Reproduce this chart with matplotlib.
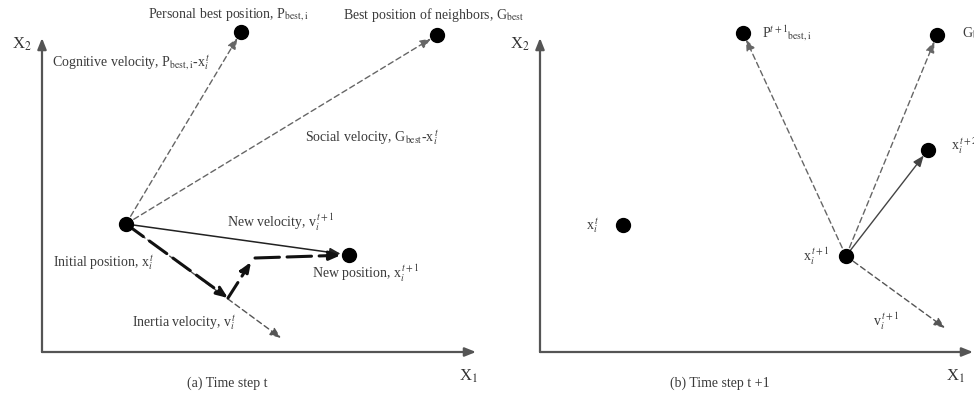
import matplotlib
matplotlib.use("Agg")
import matplotlib.pyplot as plt

plt.rcParams['font.family'] = ['Liberation Serif', 'DejaVu Serif']
plt.rcParams['mathtext.fontset'] = 'stix'

# positions, in pixels (x to the right, y downwards)
# panel (a): time step t
origin_a = (42, 352)
x_end_a, y_top_a = 476, 38
x_t = (126, 224)
p_best = (241, 32)
g_best = (437, 35)
x_new = (349, 255)
inertia_end = (281, 338)
inertia_part = (228, 298)
bend = (251, 262)
corner = (255, 258)

# panel (b): time step t+1
origin_b = (540, 352)
x_end_b, y_top_b = 973, 38
xb_t = (623, 225)
xb_new = (846, 256)
pb_new = (743, 33)
gb = (937, 35)
xb_next = (928, 150)
vb_end = (945, 328)

dots = [x_t, p_best, g_best, x_new, xb_t, xb_new, pb_new, gb, xb_next]

labels_a = [
    ("Personal best position, P$_{\\mathrm{best,i}}$", (148, 15)),
    ("Best position of neighbors, G$_{\\mathrm{best}}$", (343, 15)),
    ("Cognitive velocity, P$_{\\mathrm{best,i}}$-x$_i^{\\,t}$", (52, 63)),
    ("Social velocity, G$_{\\mathrm{best}}$-x$_i^{\\,t}$", (305, 138)),
    ("New velocity, v$_i^{\\,t+1}$", (227, 222)),
    ("Initial position, x$_i^{\\,t}$", (53, 263)),
    ("New position, x$_i^{\\,t+1}$", (312, 273)),
    ("Inertia velocity, v$_i^{\\,t}$", (132, 323)),
]
labels_b = [
    ("x$_i^{\\,t}$", (586, 226)),
    ("x$_i^{\\,t+1}$", (803, 256)),
    ("P$^{t+1}$$_{\\mathrm{best,i}}$", (762, 33)),
    ("G$_{\\mathrm{best}}$", (962, 33)),
    ("x$_i^{\\,t+2}$", (951, 146)),
    ("v$_i^{\\,t+1}$", (873, 321)),
]
captions = [("(a) Time step t", (227, 383)), ("(b) Time step t +1", (720, 383))]
axis_names = [("X$_2$", (12, 44)), ("X$_1$", (459, 376)),
              ("X$_2$", (510, 44)), ("X$_1$", (946, 376))]

fig = plt.figure(figsize=(9.74, 3.98), dpi=100)
ax = fig.add_axes([0, 0, 1, 1])
ax.set_xlim(0, 974)
ax.set_ylim(398, 0)
ax.axis('off')

grey = '#4a4a4a'
text_c = '#3a3a3a'


def arrow(p0, p1, ls='--', lw=1.0, color=grey, shrink=5, scale=12):
    ax.annotate('', xy=p1, xytext=p0,
                arrowprops=dict(arrowstyle='-|>,head_length=0.55,head_width=0.22',
                                color=color, lw=lw, linestyle=ls,
                                shrinkA=0, shrinkB=shrink, mutation_scale=scale))


# coordinate axes
for (ox, oy), xe, yt in [(origin_a, x_end_a, y_top_a), (origin_b, x_end_b, y_top_b)]:
    arrow((ox, oy), (ox, yt), ls='-', lw=1.6, color='#555555', shrink=0)
    arrow((ox, oy), (xe, oy), ls='-', lw=1.6, color='#555555', shrink=0)

# panel (a) vectors
arrow(x_t, p_best, ls=(0, (4, 2.5)), lw=1.0, color='#666666')
arrow(x_t, g_best, ls=(0, (4, 2.5)), lw=1.0, color='#666666')
arrow(x_t, x_new, ls='-', lw=1.1, color='#222222', shrink=6)
arrow(x_t, inertia_end, ls=(0, (4, 2.5)), lw=1.0, color='#555555', shrink=0)
arrow(x_t, inertia_part, ls=(0, (7, 2.5)), lw=2.2, color='#111111', shrink=0)
arrow(inertia_part, bend, ls=(0, (6, 2.5)), lw=2.2, color='#111111', shrink=0)
arrow(corner, x_new, ls=(0, (8, 2.5)), lw=2.2, color='#111111', shrink=6)

# panel (b) vectors
arrow(xb_new, pb_new, ls=(0, (4, 2.5)), lw=1.0, color='#666666')
arrow(xb_new, gb, ls=(0, (4, 2.5)), lw=1.0, color='#666666')
arrow(xb_new, xb_next, ls='-', lw=1.0, color='#444444')
arrow(xb_new, vb_end, ls=(0, (4, 2.5)), lw=1.0, color='#555555', shrink=0)

ax.plot([p[0] for p in dots], [p[1] for p in dots], 'o', color='black',
        markersize=10, zorder=5)

for txt, (x, y) in labels_a + labels_b:
    ax.text(x, y, txt, fontsize=10, color=text_c, ha='left', va='center')
for txt, (x, y) in captions:
    ax.text(x, y, txt, fontsize=10, color=text_c, ha='center', va='center')
for txt, (x, y) in axis_names:
    ax.text(x, y, txt, fontsize=12, color='#333333', ha='left', va='center')

fig.savefig('out.png', dpi=100)
